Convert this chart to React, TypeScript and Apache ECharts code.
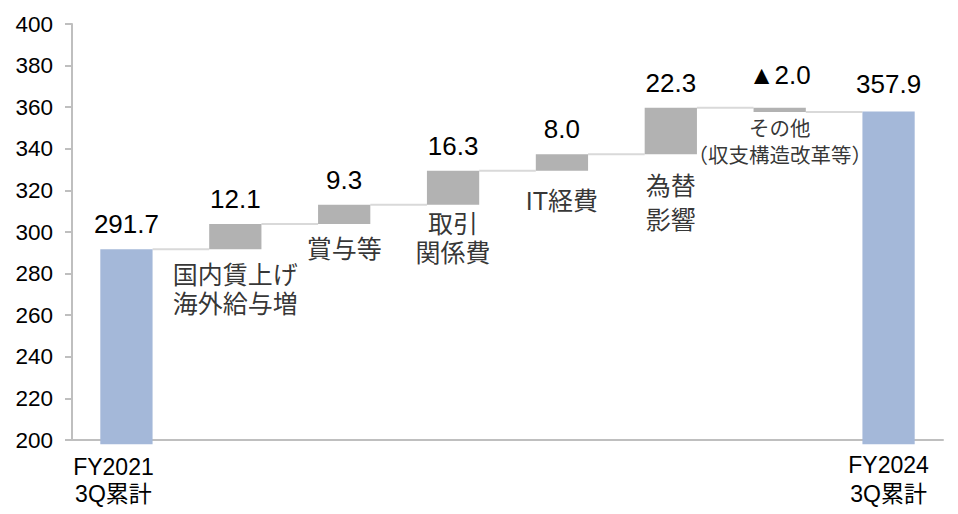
import React, { useEffect, useRef } from "react";
import * as echarts from "echarts";

// Waterfall: FY2021 3Q cumulative -> FY2024 3Q cumulative
const axisLabels = ["FY2021\n3Q累計", "", "", "", "", "", "", "FY2024\n3Q累計"];
const stepNames = [
  "",
  "国内賃上げ\n海外給与増",
  "賞与等",
  "取引\n関係費",
  "IT経費",
  "為替\n影響",
  "{a|その他}\n{b|（収支構造改革等）}",
  "",
];
const startTotal = 291.7;
const endTotal = 357.9;
const deltas = [12.1, 9.3, 16.3, 8.0, 22.3, -2.0];

const Y_MIN = 200;
const Y_MAX = 400;
const Y_STEP = 20;

// Visual constants
const BAR_FOOT = 198; // total bars reach slightly below the axis line
const BAR_RATIO = 0.48;
const BLUE = "#a4b8d9";
const GREY = "#b2b2b2";
const CONNECTOR = "#d9d9d9";
const AXIS = "#bfbfbf";
const FONT = '"Liberation Sans", "Noto Sans CJK JP", sans-serif';
const VALUE_GAP = [12, 12, 12, 12, 12, 12, 20, 15];
const NOTE_GAP = [0, 11, 10, 4, 15, 14, 3, 0];
const NOTE_LINE = [29, 29, 29, 29, 29, 34, 27, 29];

export default function App() {
  const ref = useRef<HTMLDivElement>(null);

  useEffect(() => {
    if (!ref.current) return;
    const chart = echarts.init(ref.current, null, { renderer: "svg" });

    const n = axisLabels.length;
    const helper: number[] = [];
    const visible: number[] = [];
    const valueText: string[] = [];
    const bottoms: number[] = [];
    const connectors: number[][] = [];

    helper.push(BAR_FOOT);
    visible.push(startTotal - BAR_FOOT);
    valueText.push(startTotal.toFixed(1));
    bottoms.push(BAR_FOOT);
    let running = startTotal;
    connectors.push([0, running]);
    deltas.forEach((d, k) => {
      const lo = Math.min(running, running + d);
      helper.push(lo);
      visible.push(Math.abs(d));
      valueText.push(d < 0 ? "▲" + Math.abs(d).toFixed(1) : d.toFixed(1));
      bottoms.push(lo);
      running = Math.round((running + d) * 10) / 10;
      connectors.push([k + 1, running]);
    });
    helper.push(BAR_FOOT);
    visible.push(endTotal - BAR_FOOT);
    valueText.push(endTotal.toFixed(1));
    bottoms.push(BAR_FOOT);

    const colors = visible.map((_, i) => (i === 0 || i === n - 1 ? BLUE : GREY));

    const notes = stepNames
      .map((name, i) => ({ name, i }))
      .filter((s) => s.name !== "")
      .map((s) => ({
        value: [s.i, bottoms[s.i]],
        label: {
          show: true,
          position: "bottom",
          distance: NOTE_GAP[s.i],
          formatter: s.name,
          fontSize: 25,
          lineHeight: NOTE_LINE[s.i],
          color: "#000",
          fontFamily: FONT,
          align: "center",
          rich: {
            a: { fontSize: 20.5, lineHeight: 27, fontFamily: FONT, color: "#000" },
            b: { fontSize: 20.5, lineHeight: 27, fontFamily: FONT, color: "#000" },
          },
        },
      }));

    chart.setOption({
      animation: false,
      grid: { left: 72, right: 15, top: 24, bottom: 74, containLabel: false },
      xAxis: {
        type: "category",
        data: axisLabels,
        axisLine: { show: true, lineStyle: { color: AXIS, width: 2 } },
        axisTick: { show: false },
        axisLabel: {
          interval: 0,
          margin: 10,
          color: "#000",
          fontSize: 23,
          lineHeight: 29,
          fontFamily: FONT,
          formatter: (v: string, idx: number) =>
            v === "" ? "" : idx === 0 ? `{first|${v.replace("\n", "}\n{first|")}}` : v,
          rich: {
            first: {
              fontSize: 23,
              lineHeight: 27,
              fontFamily: FONT,
              color: "#000",
              padding: [6, 26, 0, 0],
            },
          },
        },
      },
      yAxis: {
        type: "value",
        min: Y_MIN,
        max: Y_MAX,
        interval: Y_STEP,
        axisLine: { show: true, lineStyle: { color: AXIS, width: 2 } },
        axisTick: { show: true, length: 7, lineStyle: { color: AXIS, width: 2 } },
        splitLine: { show: false },
        axisLabel: { color: "#000", fontSize: 22.5, margin: 19, fontFamily: FONT },
      },
      series: [
        {
          type: "custom",
          z: 1,
          silent: true,
          data: connectors,
          renderItem: (params: any, api: any) => {
            const p = api.coord([api.value(0), api.value(1)]);
            const cw = api.size([1, 0])[0];
            const bw = cw * BAR_RATIO;
            return {
              type: "line",
              shape: { x1: p[0] + bw / 2, y1: p[1], x2: p[0] + cw - bw / 2, y2: p[1] },
              style: { stroke: CONNECTOR, lineWidth: 2 },
            };
          },
        },
        {
          type: "bar",
          stack: "wf",
          barWidth: `${BAR_RATIO * 100}%`,
          clip: false,
          silent: true,
          z: 2,
          itemStyle: { color: "transparent" },
          data: helper,
        },
        {
          type: "bar",
          stack: "wf",
          barWidth: `${BAR_RATIO * 100}%`,
          clip: false,
          silent: true,
          z: 2,
          data: visible.map((v, i) => ({
            value: v,
            itemStyle: { color: colors[i] },
            label: { distance: VALUE_GAP[i] },
          })),
          label: {
            show: true,
            position: "top",
            fontSize: 26,
            color: "#000",
            fontFamily: FONT,
            formatter: (p: any) => valueText[p.dataIndex],
          },
        },
        {
          type: "scatter",
          symbolSize: 1,
          silent: true,
          z: 3,
          itemStyle: { color: "transparent" },
          data: notes,
        },
      ],
    });

    return () => chart.dispose();
  }, []);

  return (
    <div
      ref={ref}
      style={{ position: "fixed", left: 0, top: 0, width: 958, height: 514, background: "#fff" }}
    />
  );
}
